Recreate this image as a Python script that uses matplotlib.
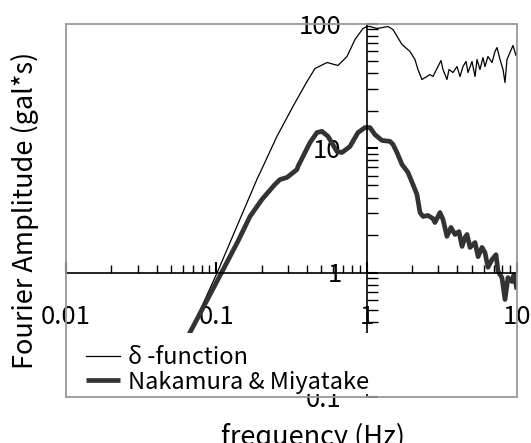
import matplotlib
matplotlib.use("Agg")
import matplotlib.pyplot as plt
import matplotlib.ticker as mticker
from matplotlib.patches import Rectangle

plt.rcParams['font.family'] = ['Noto Sans CJK JP', 'DejaVu Sans']

# delta-function response (first point hidden by legend)
delta_f = [0.055, 0.0668, 0.1014, 0.186, 0.200, 0.253, 0.323, 0.401, 0.453, 0.545, 0.644,
           0.740, 0.836, 0.945, 1.005, 1.052, 1.171, 1.283, 1.386, 1.496, 1.718,
           1.942, 2.095, 2.194, 2.332, 2.518, 2.636, 2.761, 2.980, 3.121, 3.218,
           3.421, 3.530, 3.752, 3.99, 4.18, 4.37, 4.58, 4.72, 5.02, 5.26,
           5.42, 5.67, 5.94, 6.12, 6.41, 6.82, 7.14, 7.36, 7.71, 8.07,
           8.32, 8.58, 8.98, 9.40, 9.85, 10.0]
delta_a = [0.20, 0.330, 1.0, 5.58, 6.72, 12.4, 21.5, 34.2, 43.5, 48.6, 46.0,
           54.3, 74.4, 91.2, 94.6, 94.6, 91.2, 92.9, 94.6, 89.5, 67.8,
           59.6, 51.4, 42.7, 35.5, 37.5, 38.9, 37.5, 45.1, 50.4, 42.7,
           35.5, 42.7, 40.4, 45.1, 37.5, 45.1, 49.5, 40.4, 49.5, 37.5,
           51.4, 42.7, 53.3, 45.1, 54.3, 48.6, 59.6, 64.1, 51.4, 42.7,
           33.6, 51.4, 58.5, 66.6, 55.3, 58.5]

# Nakamura & Miyatake
nm_f = [0.055, 0.0668, 0.1084, 0.139, 0.1675, 0.201, 0.245, 0.265, 0.295, 0.344, 0.349,
        0.420, 0.467, 0.504, 0.553, 0.634, 0.685, 0.774, 0.875, 0.975, 1.052,
        1.136, 1.264, 1.429, 1.496, 1.591, 1.718, 1.883, 2.032, 2.161, 2.264,
        2.371, 2.557, 2.761, 2.846, 3.073, 3.218, 3.421, 3.637, 3.87, 4.11,
        4.31, 4.51, 4.65, 4.87, 5.26, 5.51, 5.85, 6.12, 6.41, 6.82,
        7.25, 7.48, 7.94, 8.32, 8.71, 9.26, 9.55, 10.0]
nm_a = [0.20, 0.330, 1.0, 1.775, 2.82, 3.86, 5.09, 5.58, 5.80, 6.72, 7.10,
        11.07, 13.3, 13.6, 12.4, 9.37, 9.20, 10.28, 13.3, 14.6, 14.6,
        12.8, 11.5, 11.3, 10.7, 9.20, 7.37, 6.36, 5.09, 4.23, 3.03,
        2.82, 2.87, 2.71, 2.52, 3.03, 2.67, 1.95, 2.30, 2.02, 2.13,
        1.62, 1.91, 2.02, 1.59, 1.74, 1.34, 1.59, 1.45, 1.10, 1.27,
        1.39, 1.02, 0.91, 0.607, 0.91, 0.847, 0.964, 0.730]

x_ticks = [0.01, 0.1, 1, 10]
x_labels = ['0.01', '0.1', '1', '10']
y_ticks = [0.1, 1, 10, 100]
y_labels = ['0.1', '1', '10', '100']

fig = plt.figure(figsize=(5.31, 4.43), dpi=100)
ax = fig.add_axes([66 / 531, 46 / 443, 451 / 531, 373.5 / 443])

ax.plot(delta_f, delta_a, color='black', lw=0.9, label='δ -function')
ax.plot(nm_f, nm_a, color='#333333', lw=3.4, label='Nakamura & Miyatake',
        solid_capstyle='butt')

ax.set_xscale('log')
ax.set_yscale('log')
ax.set_xlim(0.01, 10)
ax.set_ylim(0.1, 100)

# axes crossing at (1, 1)
ax.spines['bottom'].set_position(('data', 1))
ax.spines['left'].set_position(('data', 1))
ax.spines['top'].set_visible(False)
ax.spines['right'].set_visible(False)
for s in ('bottom', 'left'):
    ax.spines[s].set_linewidth(1.2)
ax.add_patch(Rectangle((0, 0), 1, 1, transform=ax.transAxes, fill=False,
                       edgecolor='#999999', lw=1.3, clip_on=False, zorder=6))
# white area behind the legend (covers curves and axis, like the original)
ax.add_patch(Rectangle((0.009, 0.008), 0.695, 0.163, transform=ax.transAxes,
                       facecolor='white', edgecolor='none', clip_on=False, zorder=4))

ax.set_xticks(x_ticks, x_labels)
ax.set_yticks(y_ticks, y_labels)
ax.xaxis.set_minor_locator(mticker.LogLocator(base=10, subs=range(2, 10)))
ax.yaxis.set_minor_locator(mticker.LogLocator(base=10, subs=range(2, 10)))
ax.xaxis.set_minor_formatter(mticker.NullFormatter())
ax.yaxis.set_minor_formatter(mticker.NullFormatter())
ax.tick_params(axis='x', which='major', direction='in', length=8, width=1.5,
               pad=23, labelsize=18.5)
ax.tick_params(axis='x', which='minor', direction='in', length=6, width=1)
ax.tick_params(axis='y', which='major', direction='in', length=8, width=1.5,
               pad=18, labelsize=18.5)
ax.tick_params(axis='y', which='minor', direction='in', length=8, width=1)

ax.set_xlabel('frequency (Hz)', fontsize=19.5)
ax.xaxis.label.set_va('center')
ax.xaxis.set_label_coords(0.548, -0.107)
ax.set_ylabel('Fourier Amplitude (gal*s)', fontsize=19.5)
ax.yaxis.label.set_va('center')
ax.yaxis.set_label_coords(-0.09, 0.5)

leg = ax.legend(loc='upper left', bbox_to_anchor=(0.044, 0.137), frameon=False,
                fontsize=17, handlelength=1.45, handletextpad=0.35, borderpad=0,
                borderaxespad=0, labelspacing=0.08)
leg.set_zorder(5)

fig.savefig('out.png', dpi=100)
